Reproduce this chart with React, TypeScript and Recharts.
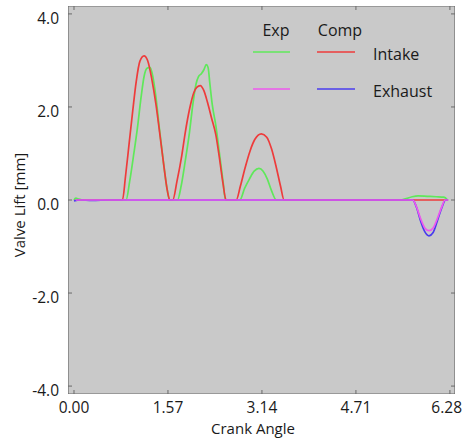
import React from "react";
import { LineChart, Line, XAxis, YAxis, ReferenceArea, Legend, Label } from "recharts";

const xTicks = [0, 1.57, 3.14, 4.71, 6.28];
const yTicks = [-4, -2, 0, 2, 4];

const intakeCompAngle = [0.03, 0.3, 0.6, 0.81, 0.86, 0.92, 0.98, 1.04, 1.10, 1.17, 1.23, 1.30, 1.37, 1.43, 1.50, 1.56, 1.60, 1.65, 1.72, 1.80, 1.86, 1.93, 2.00, 2.05, 2.11, 2.17, 2.23, 2.30, 2.37, 2.43, 2.49, 2.54, 2.71, 2.78, 2.86, 2.94, 3.02, 3.13, 3.22, 3.30, 3.38, 3.45, 3.51, 4.5, 5.5, 6.25];
const intakeCompLift = [0, 0, 0, 0, 0.5, 1.2, 1.9, 2.55, 2.98, 3.10, 3.0, 2.6, 2.05, 1.46, 0.75, 0.2, 0, 0, 0.4, 0.95, 1.46, 1.95, 2.3, 2.42, 2.46, 2.35, 2.1, 1.75, 1.4, 0.9, 0.35, 0, 0, 0.3, 0.7, 1.05, 1.3, 1.42, 1.35, 1.1, 0.7, 0.3, 0, 0, 0, 0];

const intakeExpAngle = [0.0, 0.03, 0.08, 0.15, 0.5, 0.87, 0.93, 1.00, 1.06, 1.12, 1.17, 1.22, 1.27, 1.31, 1.37, 1.43, 1.50, 1.56, 1.60, 1.73, 1.79, 1.86, 1.93, 1.99, 2.04, 2.08, 2.13, 2.17, 2.21, 2.24, 2.27, 2.31, 2.37, 2.43, 2.49, 2.53, 2.77, 2.85, 2.93, 3.01, 3.09, 3.16, 3.23, 3.30, 3.38, 4.5, 5.45, 5.55, 5.65, 5.75, 5.90, 6.05, 6.18, 6.24];
const intakeExpLift = [0, 0.04, 0.02, 0, 0, 0, 0.4, 1.0, 1.55, 2.2, 2.65, 2.83, 2.85, 2.7, 2.2, 1.5, 0.75, 0.2, 0, 0, 0.3, 0.85, 1.46, 2.1, 2.5, 2.65, 2.72, 2.8, 2.91, 2.85, 2.5, 2.05, 1.6, 1.0, 0.4, 0, 0, 0.25, 0.45, 0.62, 0.68, 0.62, 0.45, 0.2, 0, 0, 0, 0.03, 0.07, 0.09, 0.08, 0.07, 0.06, 0];

const exhaustCompAngle = [0.0, 0.1, 0.3, 0.6, 1.0, 3.0, 5.66, 5.72, 5.79, 5.86, 5.93, 6.00, 6.07, 6.14, 6.21, 6.25];
const exhaustCompLift = [-0.02, 0.0, -0.01, 0, 0, 0, 0, -0.15, -0.45, -0.68, -0.77, -0.7, -0.45, -0.18, 0, 0];

const exhaustExpAngle = [0.03, 0.3, 1.0, 3.0, 5.66, 5.72, 5.79, 5.86, 5.93, 6.00, 6.07, 6.14, 6.20, 6.25];
const exhaustExpLift = [0, 0, 0, 0, 0, -0.14, -0.4, -0.6, -0.66, -0.6, -0.4, -0.16, 0, 0];

const toPoints = (a: number[], v: number[]) => a.map((x, i) => ({ x, y: v[i] }));

const intakeComp = toPoints(intakeCompAngle, intakeCompLift);
const intakeExp = toPoints(intakeExpAngle, intakeExpLift);
const exhaustComp = toPoints(exhaustCompAngle, exhaustCompLift);
const exhaustExp = toPoints(exhaustExpAngle, exhaustExpLift);

const W = 463;
const H = 439;
const LEFT = 68;
const RIGHT = 455;
const TOP = 6;
const BOTTOM = 394;
const FONT = "'Open Sans', sans-serif";
const GREEN = "#5fe85a";
const RED = "#ee3b3b";
const MAGENTA = "#ee58ee";
const BLUE = "#4a3cee";
const FRAME = "#6a6a6a";
const TEXT = "#1a1a1a";

const XTick = (props: any) => {
  const { x, payload } = props;
  const last = payload.value === xTicks[xTicks.length - 1];
  return (
    <g>
      <line x1={x} x2={x} y1={BOTTOM} y2={BOTTOM - 4} stroke={FRAME} />
      <line x1={x} x2={x} y1={TOP} y2={TOP + 4} stroke={FRAME} />
      <text
        x={last ? W - 1 : x}
        y={BOTTOM + 13}
        textAnchor={last ? "end" : "middle"}
        dominantBaseline="central"
        fontSize={15.5}
        fontFamily={FONT}
        fill={TEXT}
      >
        {Number(payload.value).toFixed(2)}
      </text>
    </g>
  );
};

const YTick = (props: any) => {
  const { y, payload } = props;
  return (
    <g>
      <line x1={LEFT} x2={LEFT + 4} y1={y} y2={y} stroke={FRAME} />
      <line x1={RIGHT} x2={RIGHT - 4} y1={y} y2={y} stroke={FRAME} />
      <text x={LEFT - 9} y={y + 4} textAnchor="end" dominantBaseline="central" fontSize={15.5} fontFamily={FONT} fill={TEXT}>
        {Number(payload.value).toFixed(1)}
      </text>
    </g>
  );
};

const LegendBox = () => (
  <svg width={W} height={110} style={{ position: "absolute", left: 0, top: 0, pointerEvents: "none" }}>
    <g fontFamily={FONT} fontSize={16} fill={TEXT}>
      <text x={276} y={30} textAnchor="middle" dominantBaseline="central">Exp</text>
      <text x={340} y={30} textAnchor="middle" dominantBaseline="central">Comp</text>
      <line x1={253} x2={290} y1={52} y2={52} stroke={GREEN} strokeWidth={1.6} />
      <line x1={317} x2={355} y1={52} y2={52} stroke={RED} strokeWidth={1.6} />
      <text x={373} y={54} dominantBaseline="central">Intake</text>
      <line x1={253} x2={290} y1={89} y2={89} stroke={MAGENTA} strokeWidth={1.6} />
      <line x1={317} x2={355} y1={89} y2={89} stroke={BLUE} strokeWidth={1.6} />
      <text x={373} y={91} dominantBaseline="central">Exhaust</text>
    </g>
  </svg>
);

export default function App() {
  return (
    <div style={{ position: "absolute", left: 0, top: 0, width: W, height: H }}>
      <LineChart width={W} height={H} margin={{ top: TOP, right: W - RIGHT, bottom: 0, left: 0 }}>
        <ReferenceArea x1={-0.1} x2={6.365} y1={-4.17} y2={4.17} fill="#c9c9c9" fillOpacity={1} stroke={FRAME} strokeWidth={1.2} ifOverflow="hidden" />
        <XAxis
          dataKey="x"
          type="number"
          domain={[-0.1, 6.365]}
          ticks={xTicks}
          allowDataOverflow
          axisLine={false}
          tickLine={false}
          tick={<XTick />}
          height={H - BOTTOM}
          interval={0}
        >
          <Label
            content={() => (
              <text x={253} y={428} textAnchor="middle" dominantBaseline="central" fontSize={15} fontFamily={FONT} fill={TEXT}>
                Crank Angle
              </text>
            )}
          />
        </XAxis>
        <YAxis
          type="number"
          domain={[-4.17, 4.17]}
          ticks={yTicks}
          allowDataOverflow
          axisLine={false}
          tickLine={false}
          tick={<YTick />}
          width={LEFT}
          interval={0}
        >
          <Label
            content={() => (
              <text x={19} y={205} transform="rotate(-90 19 205)" textAnchor="middle" dominantBaseline="central" fontSize={15} fontFamily={FONT} fill={TEXT}>
                Valve Lift [mm]
              </text>
            )}
          />
        </YAxis>
        <Legend verticalAlign="middle" layout="horizontal" wrapperStyle={{ position: "absolute", left: 0, top: 0, width: W, height: 110 }} content={() => <LegendBox />} />
        <Line data={intakeExp} dataKey="y" type="monotone" stroke={GREEN} strokeWidth={1.7} dot={false} isAnimationActive={false} />
        <Line data={intakeComp} dataKey="y" type="monotone" stroke={RED} strokeWidth={1.7} dot={false} isAnimationActive={false} />
        <Line data={exhaustComp} dataKey="y" type="monotone" stroke={BLUE} strokeWidth={1.7} dot={false} isAnimationActive={false} />
        <Line data={exhaustExp} dataKey="y" type="monotone" stroke={MAGENTA} strokeWidth={1.7} dot={false} isAnimationActive={false} />
      </LineChart>
    </div>
  );
}
